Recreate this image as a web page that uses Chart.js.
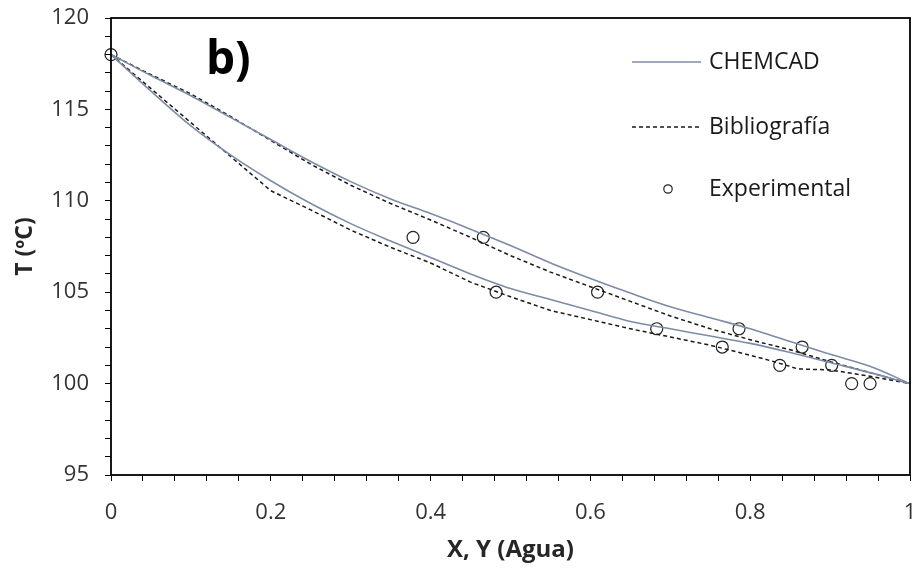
<!DOCTYPE html>
<html>
<head>
<meta charset="utf-8">
<script src="https://cdn.jsdelivr.net/npm/chart.js@4.4.1/dist/chart.umd.min.js"></script>
<style>
  html, body { margin: 0; padding: 0; background: #ffffff; }
  #wrap { width: 918px; height: 570px; }
</style>
</head>
<body>
<div id="wrap"><canvas id="c" width="918" height="570"></canvas></div>
<script>
// Composition grid (mole fraction of water) used by the model curves
const xGrid = [0, 0.05, 0.1, 0.15, 0.2, 0.25, 0.3, 0.35, 0.4, 0.45, 0.5, 0.55, 0.6, 0.65, 0.7, 0.75, 0.8, 0.85, 0.9, 0.95, 1];

// CHEMCAD: bubble (liquid, x) and dew (vapour, y) temperatures, °C
const tChemcadLiquid = [118, 116.0, 114.1, 112.5, 111.1, 109.85, 108.75, 107.8, 106.9, 106.0, 105.2, 104.6, 104.0, 103.4, 103.0, 102.6, 102.2, 101.7, 101.15, 100.6, 100];
const tChemcadVapor  = [118, 116.85, 115.75, 114.55, 113.35, 112.15, 111.05, 110.1, 109.3, 108.45, 107.55, 106.6, 105.75, 104.95, 104.2, 103.6, 103.0, 102.3, 101.6, 100.95, 100];

// Literature data
const xBiblioLiquid = [0, 0.2, 0.25, 0.3, 0.35, 0.4, 0.45, 0.5, 0.55, 0.6, 0.65, 0.7, 0.75, 0.8, 0.83, 0.86, 0.9, 0.95, 1];
const tBiblioLiquid = [118, 110.55, 109.5, 108.4, 107.45, 106.6, 105.55, 104.75, 104.0, 103.5, 103.0, 102.55, 102.1, 101.55, 101.2, 100.8, 100.75, 100.4, 100];
const xBiblioVapor = xGrid;
const tBiblioVapor = [118, 116.9, 115.85, 114.6, 113.3, 112.0, 110.85, 109.85, 108.95, 108.0, 107.0, 106.1, 105.3, 104.5, 103.7, 103.0, 102.4, 101.85, 101.2, 100.6, 100];

// Experimental equilibrium points
const xExperimental = [0, 0.378, 0.466, 0.482, 0.609, 0.683, 0.786, 0.765, 0.865, 0.837, 0.902, 0.927, 0.950];
const tExperimental = [118, 108, 108, 105, 105, 103, 103, 102, 102, 101, 101, 100, 100];

// Axis tick labels (major ticks only)
const xTickLabels = ['0', '0.2', '0.4', '0.6', '0.8', '1'];
const yTickLabels = ['95', '100', '105', '110', '115', '120'];

const seriesNames = ['CHEMCAD', 'Bibliografía', 'Experimental'];
const panelLabel = 'b)';
const xTitle = 'X, Y (Agua)';
const yTitle = 'T (ºC)';

const FONT = "'Open Sans', 'DejaVu Sans', sans-serif";
const chemcadColor = '#7d8ca6';
const dashColor = '#1a1a1a';

const pairs = (xs, ys) => xs.map((x, i) => ({ x: x, y: ys[i] }));

// Frame around the plot area
const framePlugin = {
  id: 'frame',
  afterDraw(chart) {
    const { ctx, chartArea: a } = chart;
    ctx.save();
    ctx.strokeStyle = '#000';
    ctx.lineWidth = 1.8;
    ctx.strokeRect(a.left, a.top, a.right - a.left, a.bottom - a.top);
    ctx.restore();
  }
};

// Panel tag and inset legend
const insetPlugin = {
  id: 'inset',
  afterDraw(chart) {
    const ctx = chart.ctx;
    const ds = chart.data.datasets;
    ctx.save();
    ctx.fillStyle = '#000';
    ctx.font = 'bold 46px ' + FONT;
    ctx.textBaseline = 'alphabetic';
    ctx.textAlign = 'left';
    ctx.fillText(panelLabel, 206, 74);

    const rows = [
      { d: ds[0], y: 62 },
      { d: ds[2], y: 127 },
      { d: ds[4], y: 189 }
    ];
    ctx.font = '23px ' + FONT;
    ctx.textBaseline = 'middle';
    rows.forEach(r => {
      const d = r.d;
      if (d.showLine === false) {
        ctx.beginPath();
        ctx.arc(668, r.y, 4.2, 0, Math.PI * 2);
        ctx.strokeStyle = d.borderColor;
        ctx.lineWidth = 1.2;
        ctx.stroke();
      } else {
        ctx.beginPath();
        ctx.setLineDash(d.borderDash || []);
        ctx.strokeStyle = d.borderColor;
        ctx.lineWidth = d.borderWidth;
        ctx.moveTo(632, r.y);
        ctx.lineTo(701, r.y);
        ctx.stroke();
        ctx.setLineDash([]);
      }
      ctx.fillStyle = '#1a1a1a';
      ctx.fillText(d.label, 709, r.y);
    });
    ctx.restore();
  }
};

const solid = (label, data) => ({
  label: label, data: data, showLine: true, borderColor: chemcadColor, borderWidth: 1.6,
  pointRadius: 0, cubicInterpolationMode: 'monotone', fill: false, clip: false
});
const dashed = (label, data) => ({
  label: label, data: data, showLine: true, borderColor: dashColor, borderWidth: 1.5,
  borderDash: [4, 3], pointRadius: 0, tension: 0, fill: false, clip: false
});

new Chart(document.getElementById('c'), {
  type: 'scatter',
  data: {
    datasets: [
      solid(seriesNames[0], pairs(xGrid, tChemcadLiquid)),
      solid(seriesNames[0], pairs(xGrid, tChemcadVapor)),
      dashed(seriesNames[1], pairs(xBiblioLiquid, tBiblioLiquid)),
      dashed(seriesNames[1], pairs(xBiblioVapor, tBiblioVapor)),
      {
        label: seriesNames[2], data: pairs(xExperimental, tExperimental), showLine: false,
        pointStyle: 'circle', pointRadius: 6, pointBorderWidth: 1.2,
        borderColor: '#222', pointBorderColor: '#222', backgroundColor: 'rgba(0,0,0,0)',
        pointBackgroundColor: 'rgba(0,0,0,0)', clip: false
      }
    ]
  },
  options: {
    responsive: false,
    animation: false,
    layout: { padding: { top: 18, right: 8, left: 0, bottom: 0 } },
    plugins: { legend: { display: false }, tooltip: { enabled: false } },
    scales: {
      x: {
        type: 'linear', min: 0, max: 1,
        afterFit(s) { s.height = 95; s.paddingLeft = 0; s.paddingRight = 0; s.paddingTop = 0; s.paddingBottom = 0; },
        ticks: {
          stepSize: 0.04, maxTicksLimit: 100, autoSkip: false, maxRotation: 0, padding: 19,
          color: '#333333', font: { family: FONT, size: 22 },
          callback(v) {
            const k = v * 5;
            return Math.abs(k - Math.round(k)) < 1e-6 ? xTickLabels[Math.round(k)] : '';
          }
        },
        grid: { drawOnChartArea: false, drawTicks: true, tickLength: 6, color: '#000', lineWidth: 1 },
        border: { display: false },
        title: { display: true, text: xTitle, color: '#262626', font: { family: FONT, size: 24, weight: 'bold' }, padding: { top: 0, bottom: 5 } }
      },
      y: {
        type: 'linear', min: 95, max: 120,
        afterFit(s) { s.width = 111; s.paddingLeft = 0; s.paddingRight = 0; s.paddingTop = 0; s.paddingBottom = 0; },
        ticks: {
          stepSize: 1, maxTicksLimit: 100, autoSkip: false, padding: 16,
          color: '#333333', font: { family: FONT, size: 22 },
          callback(v) {
            const k = (v - 95) / 5;
            return Math.abs(k - Math.round(k)) < 1e-6 ? yTickLabels[Math.round(k)] : '';
          }
        },
        grid: { drawOnChartArea: false, drawTicks: true, tickLength: 6, color: '#000', lineWidth: 1 },
        border: { display: false },
        title: { display: true, text: yTitle, color: '#262626', font: { family: FONT, size: 23, weight: 'bold' }, padding: { top: 12, bottom: 0 } }
      }
    }
  },
  plugins: [framePlugin, insetPlugin]
});
</script>
</body>
</html>
